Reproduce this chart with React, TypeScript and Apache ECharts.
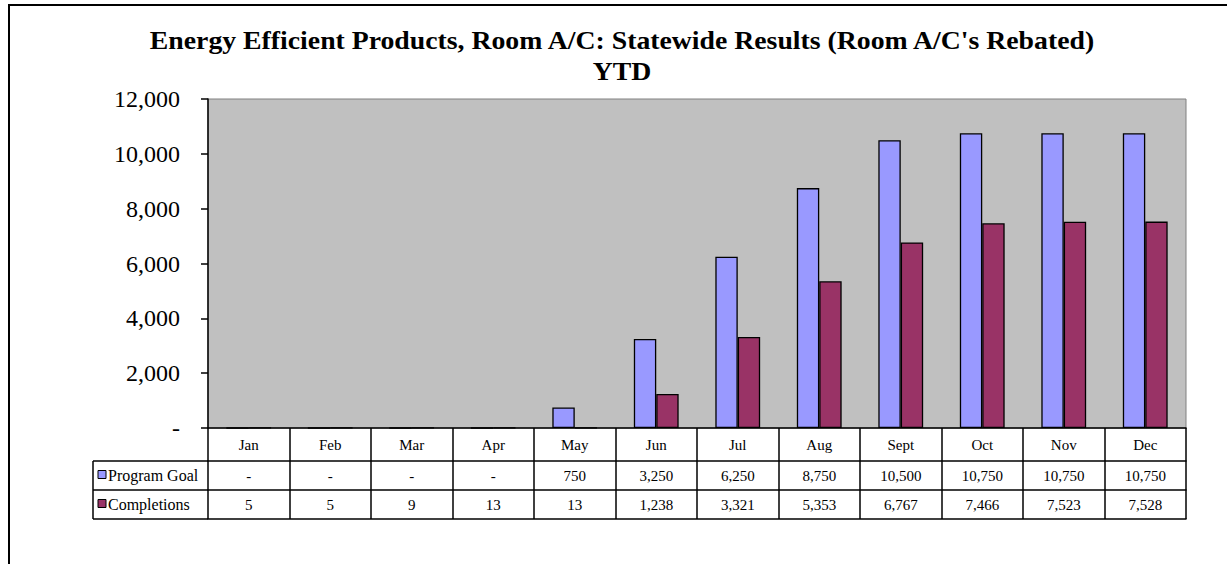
import React, { useEffect, useRef } from "react";
import * as echarts from "echarts";

const titleLines = [
  "Energy Efficient Products, Room A/C: Statewide Results (Room A/C's Rebated)",
  "YTD",
];
const months = ["Jan", "Feb", "Mar", "Apr", "May", "Jun", "Jul", "Aug", "Sept", "Oct", "Nov", "Dec"];
const seriesNames = ["Program Goal", "Completions"];
const programGoal = [0, 0, 0, 0, 750, 3250, 6250, 8750, 10500, 10750, 10750, 10750];
const completions = [5, 5, 9, 13, 13, 1238, 3321, 5353, 6767, 7466, 7523, 7528];
const seriesColors = ["#9999FF", "#993366"];
const yTicks = { min: 0, max: 12000, interval: 2000 };

const FONT = "'Liberation Serif', 'Times New Roman', serif";

const fmt = (v: number) => (v === 0 ? "-" : v.toLocaleString("en-US"));

export default function App() {
  const ref = useRef<HTMLDivElement>(null);
  useEffect(() => {
    if (!ref.current) return;
    const chart = echarts.init(ref.current, null, { renderer: "svg" });
    const gridLeft = 208;
    const gridTop = 99;
    const gridRight = 1186;
    const gridBottom = 428;
    const rowH = [33, 29, 29];
    const row1 = gridBottom + rowH[0];
    const row2 = row1 + rowH[1];
    const row3 = row2 + rowH[2];
    const labelColLeft = 93;
    const lineStyle = { stroke: "#000", lineWidth: 1.5 };

    const graphics: any[] = [
      {
        type: "rect",
        shape: { x: 9, y: 5, width: 1400, height: 800 },
        style: { fill: "none", stroke: "#000", lineWidth: 2 },
        z: 0,
        silent: true,
      },
      { type: "line", shape: { x1: labelColLeft, y1: row1, x2: gridLeft, y2: row1 }, style: lineStyle },
      { type: "line", shape: { x1: labelColLeft, y1: row2, x2: gridLeft, y2: row2 }, style: lineStyle },
      { type: "line", shape: { x1: labelColLeft, y1: row3, x2: gridLeft, y2: row3 }, style: lineStyle },
      { type: "line", shape: { x1: labelColLeft, y1: row1, x2: labelColLeft, y2: row3 }, style: lineStyle },
    ];
    const titleY = [40, 71];
    titleLines.forEach((t, i) => {
      graphics.push({
        type: "text",
        x: 622,
        y: titleY[i],
        scaleX: 1.11,
        style: {
          text: t,
          font: `bold 25px ${FONT}`,
          fill: "#000",
          align: "center",
          verticalAlign: "middle",
        },
      });
    });
    const rowTops = [row1, row2];
    seriesNames.forEach((name, i) => {
      const cy = rowTops[i] + rowH[i + 1] / 2;
      graphics.push({
        type: "rect",
        shape: { x: 98, y: cy - 5, width: 8, height: 8 },
        style: { fill: seriesColors[i], stroke: "#000", lineWidth: 1 },
      });
      graphics.push({
        type: "text",
        x: 108,
        y: cy,
        style: {
          text: name,
          font: `16px ${FONT}`,
          fill: "#000",
          verticalAlign: "middle",
        },
      });
    });

    const tableAxis = (data: string[], offset: number, margin: number, showLabel: boolean) => ({
      type: "category",
      data,
      position: "bottom",
      offset,
      axisLine: { show: true, lineStyle: { color: "#000", width: 1.5 } },
      axisTick: { show: false },
      axisLabel: {
        show: showLabel,
        interval: 0,
        margin,
        fontFamily: FONT,
        fontSize: 15,
        color: "#000",
      },
      splitLine: { show: false },
    });

    chart.setOption({
      animation: false,
      backgroundColor: "#fff",
      grid: {
        left: gridLeft,
        top: gridTop,
        width: gridRight - gridLeft,
        height: gridBottom - gridTop,
        show: true,
        backgroundColor: "#C0C0C0",
        borderColor: "#808080",
        borderWidth: 1,
      },
      xAxis: [
        {
          type: "category",
          data: months,
          position: "bottom",
          axisLine: { show: true, lineStyle: { color: "#000", width: 1.5 } },
          axisTick: {
            show: true,
            interval: 0,
            inside: false,
            length: row3 - gridBottom,
            lineStyle: { color: "#000", width: 1.5 },
          },
          axisLabel: {
            interval: 0,
            margin: 9,
            fontFamily: FONT,
            fontSize: 15,
            color: "#000",
          },
          splitLine: { show: false },
        },
        tableAxis(programGoal.map(fmt), rowH[0], 7, true),
        tableAxis(completions.map(fmt), rowH[0] + rowH[1], 7, true),
        tableAxis(months.map(() => ""), rowH[0] + rowH[1] + rowH[2], 8, false),
      ],
      yAxis: {
        type: "value",
        min: yTicks.min,
        max: yTicks.max,
        interval: yTicks.interval,
        axisLine: { show: true, lineStyle: { color: "#000", width: 1.5 } },
        axisTick: { show: true, length: 7, lineStyle: { color: "#000", width: 1.5 } },
        axisLabel: {
          margin: 28,
          fontFamily: FONT,
          fontSize: 24,
          color: "#000",
          formatter: (v: number) => fmt(v),
        },
        splitLine: { show: false },
      },
      series: [
        {
          name: seriesNames[0],
          type: "bar",
          data: programGoal,
          barGap: "0%",
          barCategoryGap: "45%",
          itemStyle: { color: seriesColors[0], borderColor: "#000", borderWidth: 1.3 },
        },
        {
          name: seriesNames[1],
          type: "bar",
          data: completions,
          barGap: "0%",
          barCategoryGap: "45%",
          itemStyle: { color: seriesColors[1], borderColor: "#000", borderWidth: 1.3 },
        },
      ],
      graphic: graphics,
    });
    return () => chart.dispose();
  }, []);
  return (
    <div
      ref={ref}
      style={{ position: "fixed", left: 0, top: 0, width: 1227, height: 564 }}
    />
  );
}
